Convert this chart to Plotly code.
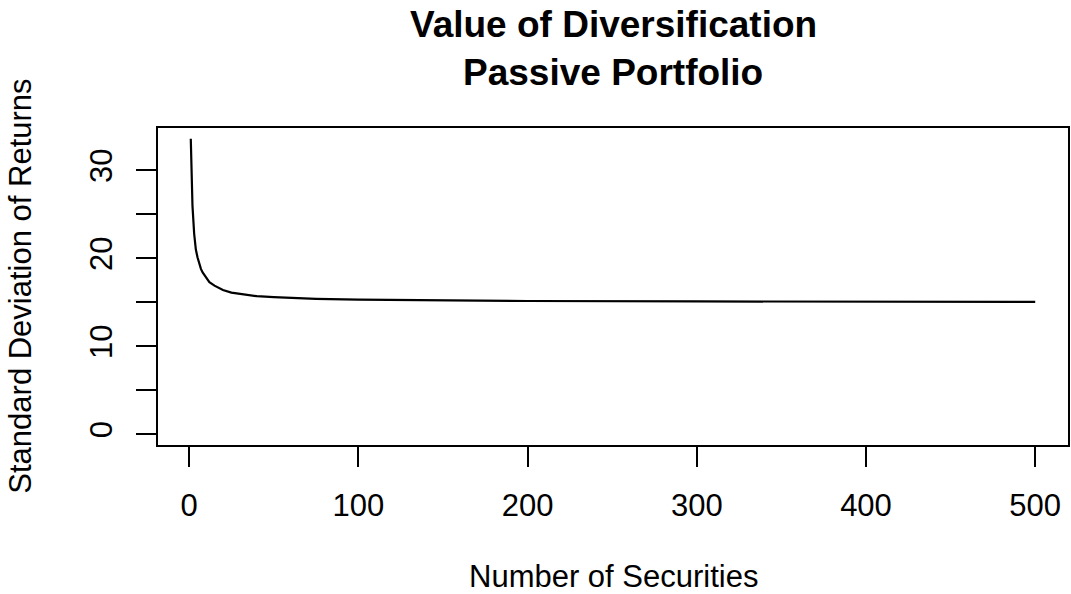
import plotly.graph_objects as go

# Values
n_securities = [1, 2, 3, 4, 5, 6, 7, 8, 10, 12, 15, 20, 25, 30, 40, 50, 60, 75,
                100, 150, 200, 300, 400, 500]
std_dev = [33.6, 26.0, 22.8, 21.0, 20.1, 19.3, 18.8, 18.4, 17.8, 17.3, 16.9,
           16.4, 16.1, 15.95, 15.7, 15.6, 15.5, 15.4, 15.3, 15.2, 15.15, 15.1,
           15.07, 15.05]
x_ticks = [0, 100, 200, 300, 400, 500]
y_ticks = [0, 5, 10, 15, 20, 25, 30]
y_tick_text = ["0", "", "10", "", "20", "", "30"]

title_lines = ["Value of Diversification", "Passive Portfolio"]
x_title = "Number of Securities"
y_title = "Standard Deviation of Returns"

FONT = "Liberation Sans, Arial, Helvetica, sans-serif"

fig = go.Figure()
fig.add_trace(go.Scatter(x=n_securities, y=std_dev, mode="lines",
                         line=dict(color="black", width=2.2),
                         showlegend=False, hoverinfo="x+y"))

xmin, xmax = min(n_securities), max(n_securities)
ymin, ymax = 0, max(std_dev)
xpad = (xmax - xmin) * 0.04
ypad = (ymax - ymin) * 0.04

fig.update_layout(
    width=1071, height=594,
    margin=dict(l=157, r=2, t=127, b=148),
    plot_bgcolor="white", paper_bgcolor="white",
    font=dict(family=FONT, color="black", size=31),
    xaxis=dict(range=[xmin - xpad, xmax + xpad], tickvals=x_ticks,
               ticks="outside", ticklen=20, tickwidth=1.8, tickcolor="black",
               showgrid=False, zeroline=False, showline=False,
               tickfont=dict(size=31), ticklabelstandoff=12),
    yaxis=dict(range=[ymin - ypad, ymax + ypad], tickvals=y_ticks,
               ticktext=y_tick_text, tickangle=-90,
               ticks="outside", ticklen=20, tickwidth=1.8, tickcolor="black",
               showgrid=False, zeroline=False, showline=False,
               tickfont=dict(size=31), ticklabelstandoff=12),
    shapes=[dict(type="rect", xref="paper", yref="paper", x0=0, x1=1, y0=0, y1=1,
                 line=dict(color="black", width=2))],
    annotations=[
        dict(text="<b>%s</b>" % title_lines[0], xref="paper", yref="paper",
             x=0.5, y=1.321, xanchor="center", yanchor="middle", showarrow=False,
             font=dict(size=37, family=FONT)),
        dict(text="<b>%s</b>" % title_lines[1], xref="paper", yref="paper",
             x=0.5, y=1.171, xanchor="center", yanchor="middle", showarrow=False,
             font=dict(size=37, family=FONT)),
        dict(text=x_title, xref="paper", yref="paper", x=0.5, y=-0.409,
             xanchor="center", yanchor="middle", showarrow=False, borderpad=0,
             font=dict(size=31, family=FONT)),
        dict(text=y_title, xref="paper", yref="paper", x=-0.150, y=0.5,
             xanchor="center", yanchor="middle", showarrow=False, textangle=-90,
             font=dict(size=31, family=FONT)),
    ],
)

fig.write_html("out.html", config={"displayModeBar": False},
               post_script="document.body.style.margin='0';")
